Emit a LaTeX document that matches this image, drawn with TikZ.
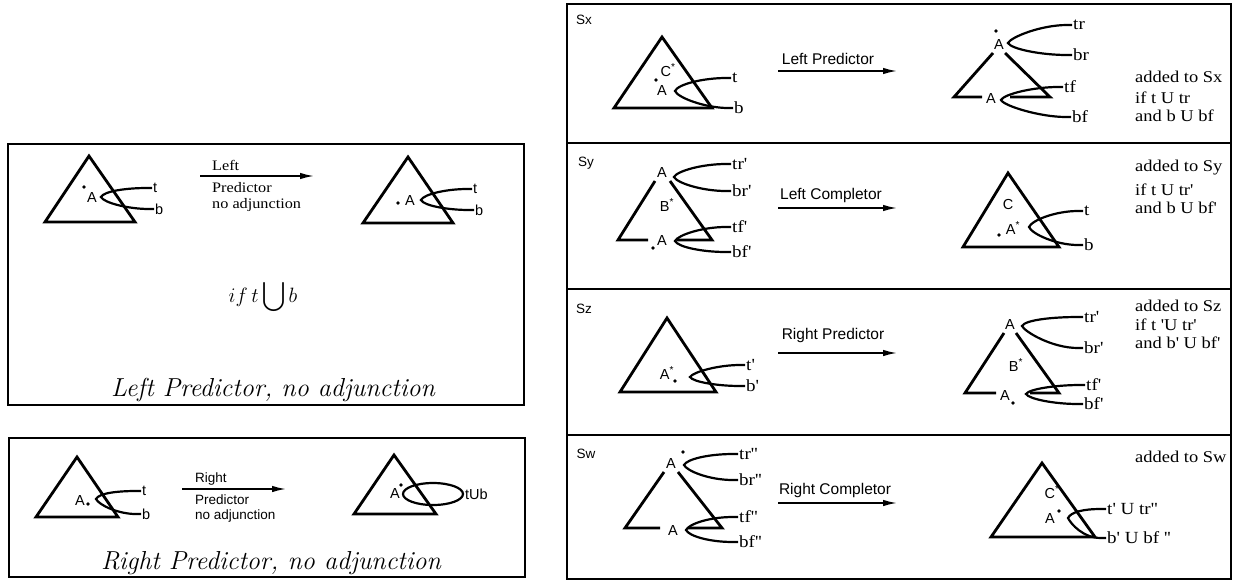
\documentclass[tikz,border=0pt]{standalone}
\usepackage{exscale}
\usepackage{fontspec}
\setsansfont{Liberation Sans}
\newfontfamily\palfont{Liberation Serif}[FakeStretch=1.12]
\usetikzlibrary{arrows.meta}

\begin{document}
\begin{tikzpicture}[x=1pt,y=-1pt,
	tri/.style={line width=2.8pt,line join=miter},
	lnk/.style={line width=2.2pt},
	boxline/.style={line width=1.8pt},
	arr/.style={line width=1.6pt,-{Latex[length=14pt,width=6.5pt]}},
	dotc/.style={circle,fill,inner sep=0pt,minimum size=3.6pt},
	sym/.style={inner sep=0pt,font=\sffamily\fontsize{14.5}{14.5}\selectfont},
	tb/.style={anchor=west,inner sep=1pt,font=\sffamily\fontsize{14.5}{14.5}\selectfont},
	lab/.style={anchor=west,inner sep=1pt,font=\palfont\fontsize{17}{17}\selectfont},
	addl/.style={anchor=west,inner sep=0pt,font=\palfont\fontsize{16.5}{16.5}\selectfont},
	pal/.style={anchor=west,inner sep=0pt,font=\palfont\fontsize{14.5}{14.5}\selectfont},
	hel/.style={anchor=west,inner sep=0pt,font=\sffamily\fontsize{13.5}{13.5}\selectfont},
	opname/.style={inner sep=0pt,font=\sffamily\fontsize{15.5}{15.5}\selectfont},
	slab/.style={inner sep=0pt,font=\sffamily\fontsize{13.5}{13.5}\selectfont},
	boxtitle/.style={inner sep=0pt,font=\fontsize{26}{30}\selectfont\itshape\addfontfeature{LetterSpace=13}}]
	\useasboundingbox (0,0) rectangle (1233,582);
	
	% frames
	\draw[boxline] (8,144) rectangle (524,405);
	\draw[boxline] (9,438) rectangle (525,577);
	\draw[boxline] (567,4) rectangle (1231,579);
	\draw[boxline] (567,143) -- (1231,143);
	\draw[boxline] (567,289) -- (1231,289);
	\draw[boxline] (567,435) -- (1231,435);
	
	% left predictor, no adjunction
	\draw[tri] (89,156) -- (45,222) -- (135,222) -- cycle;
	\node[dotc] (ldot1) at (84,187) {};
	\node[sym] (lA1) at (92,198) {A};
	\node[tb] (lt1) at (152,188) {t};
	\node[tb] (lb1) at (154,209) {b};
	\coordinate (ltip1) at (101,197);
	\draw[lnk] (lt1.west) -- ++(-5,0) .. controls +(-20,0) and +(3,-6) .. (ltip1) .. controls +(3,6) and +(-20,0) .. ([xshift=-5pt]lb1.west) -- (lb1.west);
	
	\coordinate (la1) at (200,176);
	\coordinate (lz1) at (314,176);
	\draw[arr] (la1) -- (lz1);
	\node[pal] (lleft) at (212,165) {Left};
	\node[pal] (lpred) at (212,188) {Predictor};
	\node[pal] (lnoadj) at (212,205) {no adjunction};
	
	\draw[tri] (408,157) -- (363,223) -- (453,223) -- cycle;
	\node[dotc] (ldot2) at (398,203) {};
	\node[sym] (lA2) at (410,201) {A};
	\node[tb] (lt2) at (472,189) {t};
	\node[tb] (lb2) at (474,210) {b};
	\coordinate (ltip2) at (421,200);
	\draw[lnk] (lt2.west) -- ++(-5,0) .. controls +(-20,0) and +(3,-6) .. (ltip2) .. controls +(3,6) and +(-20,0) .. ([xshift=-5pt]lb2.west) -- (lb2.west);
	
	\node (lcond) at (263,297) {\fontsize{20}{24}\selectfont $if\,t\displaystyle\bigcup b$};
	\node[boxtitle] (ltitle) at (273,390) {Left Predictor, no adjunction};
	
	% right predictor, no adjunction
	\draw[tri] (77,457) -- (36,517) -- (118,517) -- cycle;
	\node[sym] (rA1) at (80,500) {A};
	\node[dotc] (rdot1) at (88,504) {};
	\node[tb] (rt1) at (141,491) {t};
	\node[tb] (rb1) at (141,514) {b};
	\coordinate (rtip1) at (96,499);
	\draw[lnk] (rt1.west) -- ++(-5,0) .. controls +(-18,0) and +(3,-6) .. (rtip1) .. controls +(3,6) and +(-18,0) .. ([xshift=-5pt]rb1.west) -- (rb1.west);
	
	\coordinate (ra1) at (182,489);
	\coordinate (rz1) at (286,489);
	\draw[arr] (ra1) -- (rz1);
	\node[hel] (rright) at (195,479) {Right};
	\node[hel] (rpred) at (195,500) {Predictor};
	\node[hel] (rnoadj) at (195,516) {no adjunction};
	
	\draw[tri] (394,455) -- (354,514) -- (436,514) -- cycle;
	\node[sym] (rA2) at (395,494) {A};
	\node[dotc] (rdot2) at (401,485) {};
	\coordinate (rell) at (433,494);
	\draw[lnk] (rell) ellipse [x radius=30pt,y radius=11pt];
	\node[tb] (rtub) at (464,494) {tUb};
	
	\node[boxtitle] (rtitle) at (271,563) {Right Predictor, no adjunction};
	
	% Sx
	\node[slab] (sx) at (584,20) {Sx};
	\draw[tri] (662,37) -- (614,108) -- (712,108) -- cycle;
	\node[sym] (xC) at (668,70) {C\textsuperscript{*}};
	\node[dotc] (xdot1) at (656,80) {};
	\node[sym] (xA1) at (662,91) {A};
	\node[lab] (xt) at (731,78) {t};
	\node[lab] (xb) at (733,108) {b};
	\coordinate (xtip1) at (675,91);
	\draw[lnk] (xt.west) -- ++(-5,0) .. controls +(-22,0) and +(3,-7) .. (xtip1) .. controls +(3,7) and +(-22,0) .. ([xshift=-5pt]xb.west) -- (xb.west);
	
	\node[opname] (xlp) at (828,59) {Left Predictor};
	\coordinate (xa) at (778,71);
	\coordinate (xz) at (897,71);
	\draw[arr] (xa) -- (xz);
	
	\node[dotc] (xdot2) at (996,31) {};
	\node[sym] (xA2) at (999,45) {A};
	\node[sym] (xA3) at (991,99) {A};
	\draw[tri] (993,53) -- (954,97) -- (982,97);
	\draw[tri] (1005,53) -- (1050,97) -- (1010,97);
	\node[lab] (xtr) at (1072,25) {tr};
	\node[lab] (xbr) at (1072,55) {br};
	\coordinate (xtip2) at (1008,43);
	\draw[lnk] (xtr.west) -- ++(-5,0) .. controls +(-26,0) and +(3,-6) .. (xtip2) .. controls +(3,6) and +(-26,0) .. ([xshift=-5pt]xbr.west) -- (xbr.west);
	\node[lab] (xtf) at (1063,87) {tf};
	\node[lab] (xbf) at (1071,117) {bf};
	\coordinate (xtip3) at (1001,100);
	\draw[lnk] (xtf.west) -- ++(-5,0) .. controls +(-24,0) and +(3,-6) .. (xtip3) .. controls +(3,6) and +(-26,0) .. ([xshift=-5pt]xbf.west) -- (xbf.west);
	
	\node[addl] (xadd) at (1135,77) {added to Sx};
	\node[addl] (xif) at (1135,98) {if t U tr};
	\node[addl] (xand) at (1135,116) {and b U bf};
	
	% Sy
	\node[slab] (sy) at (586,163) {Sy};
	\node[sym] (yA1) at (662,173) {A};
	\draw[tri] (655,181) -- (618,240) -- (648,240);
	\draw[tri] (670,181) -- (712,240) -- (677,240);
	\node[sym] (yB) at (667,205) {B\textsuperscript{*}};
	\node[sym] (yA2) at (662,241) {A};
	\node[dotc] (ydot1) at (653,248) {};
	\node[lab] (ytr) at (731,164) {tr'};
	\node[lab] (ybr) at (731,191) {br'};
	\coordinate (ytip1) at (674,177);
	\draw[lnk] (ytr.west) -- ++(-5,0) .. controls +(-24,0) and +(3,-6) .. (ytip1) .. controls +(3,6) and +(-24,0) .. ([xshift=-5pt]ybr.west) -- (ybr.west);
	\node[lab] (ytf) at (731,227) {tf'};
	\node[lab] (ybf) at (731,252) {bf'};
	\coordinate (ytip2) at (675,241);
	\draw[lnk] (ytf.west) -- ++(-5,0) .. controls +(-24,0) and +(3,-6) .. (ytip2) .. controls +(3,6) and +(-24,0) .. ([xshift=-5pt]ybf.west) -- (ybf.west);
	
	\node[opname] (ylc) at (831,195) {Left Completor};
	\coordinate (ya) at (778,208);
	\coordinate (yz) at (897,208);
	\draw[arr] (ya) -- (yz);
	
	\draw[tri] (1008,173) -- (963,247) -- (1059,247) -- cycle;
	\node[sym] (yC) at (1008,205) {C};
	\node[sym] (yA3) at (1013,228) {A\textsuperscript{*}};
	\node[dotc] (ydot2) at (999,235) {};
	\node[lab] (yt) at (1083,211) {t};
	\node[lab] (yb) at (1083,245) {b};
	\coordinate (ytip3) at (1029,227);
	\draw[lnk] (yt.west) -- ++(-5,0) .. controls +(-22,0) and +(3,-7) .. (ytip3) .. controls +(3,7) and +(-22,0) .. ([xshift=-5pt]yb.west) -- (yb.west);
	
	\node[addl] (yadd) at (1135,168) {added to Sy};
	\node[addl] (yif) at (1135,190) {if t U tr'};
	\node[addl] (yand) at (1135,208) {and b U bf'};
	
	% Sz
	\node[slab] (sz) at (584,309) {Sz};
	\draw[tri] (667,318) -- (620,392) -- (716,392) -- cycle;
	\node[sym] (zA1) at (667,373) {A\textsuperscript{*}};
	\node[dotc] (zdot1) at (675,381) {};
	\node[lab] (zt) at (745,365) {t'};
	\node[lab] (zb) at (745,386) {b'};
	\coordinate (ztip1) at (690,377);
	\draw[lnk] (zt.west) -- ++(-5,0) .. controls +(-22,0) and +(3,-5) .. (ztip1) .. controls +(3,5) and +(-22,0) .. ([xshift=-5pt]zb.west) -- (zb.west);
	
	\node[opname] (zrp) at (833,335) {Right Predictor};
	\coordinate (za) at (778,353);
	\coordinate (zz) at (897,353);
	\draw[arr] (za) -- (zz);
	
	\node[sym] (zA2) at (1010,325) {A};
	\draw[tri] (1004,333) -- (965,393) -- (996,393);
	\draw[tri] (1016,333) -- (1059,393) -- (1030,393);
	\node[sym] (zB) at (1016,365) {B\textsuperscript{*}};
	\node[sym] (zA3) at (1005,396) {A};
	\node[dotc] (zdot2) at (1013,403) {};
	\node[lab] (ztr) at (1083,317) {tr'};
	\node[lab] (zbr) at (1083,348) {br'};
	\coordinate (ztip2) at (1022,326);
	\draw[lnk] (ztr.west) -- ++(-5,0) .. controls +(-26,0) and +(3,-6) .. (ztip2) .. controls +(3,6) and +(-26,0) .. ([xshift=-5pt]zbr.west) -- (zbr.west);
	\node[lab] (ztf) at (1085,385) {tf'};
	\node[lab] (zbf) at (1083,404) {bf'};
	\coordinate (ztip3) at (1026,394);
	\draw[lnk] (ztf.west) -- ++(-5,0) .. controls +(-24,0) and +(3,-5) .. (ztip3) .. controls +(3,5) and +(-24,0) .. ([xshift=-5pt]zbf.west) -- (zbf.west);
	
	\node[addl] (zadd) at (1135,306) {added to Sz};
	\node[addl] (zif) at (1135,325) {if t 'U tr'};
	\node[addl] (zand) at (1135,343) {and b' U bf'};
	
	% Sw
	\node[slab] (sw) at (586,454) {Sw};
	\node[sym] (wA1) at (671,464) {A};
	\node[dotc] (wdot1) at (683,452) {};
	\draw[tri] (664,472) -- (625,528) -- (660,528);
	\draw[tri] (678,472) -- (722,528) -- (688,528);
	\node[sym] (wA2) at (673,530) {A};
	\node[lab] (wtr) at (738,454) {tr''};
	\node[lab] (wbr) at (738,480) {br''};
	\coordinate (wtip1) at (684,465);
	\draw[lnk] (wtr.west) -- ++(-5,0) .. controls +(-24,0) and +(3,-6) .. (wtip1) .. controls +(3,6) and +(-24,0) .. ([xshift=-5pt]wbr.west) -- (wbr.west);
	\node[lab] (wtf) at (738,517) {tf''};
	\node[lab] (wbf) at (738,542) {bf''};
	\coordinate (wtip2) at (686,530);
	\draw[lnk] (wtf.west) -- ++(-5,0) .. controls +(-24,0) and +(3,-6) .. (wtip2) .. controls +(3,6) and +(-24,0) .. ([xshift=-5pt]wbf.west) -- (wbf.west);
	
	\node[opname] (wrc) at (835,490) {Right Completor};
	\coordinate (wa) at (778,503);
	\coordinate (wz) at (897,503);
	\draw[arr] (wa) -- (wz);
	
	\draw[tri] (1042,463) -- (991,537) -- (1095,537) -- cycle;
	\node[sym] (wC) at (1052,492) {C\textsuperscript{*}};
	\node[sym] (wA3) at (1050,518) {A};
	\node[dotc] (wdot2) at (1059,511) {};
	\node[lab] (wt) at (1106,509) {t' U tr''};
	\node[lab] (wb) at (1106,538) {b' U bf ''};
	\coordinate (wtip3) at (1068,518);
	\draw[lnk] (wt.west) -- ++(-5,0) .. controls +(-18,0) and +(3,-6) .. (wtip3) .. controls +(3,6) and +(-18,0) .. ([xshift=-5pt]wb.west) -- (wb.west);
	
	\node[addl] (wadd) at (1135,457) {added to Sw};
\end{tikzpicture}
\end{document}
